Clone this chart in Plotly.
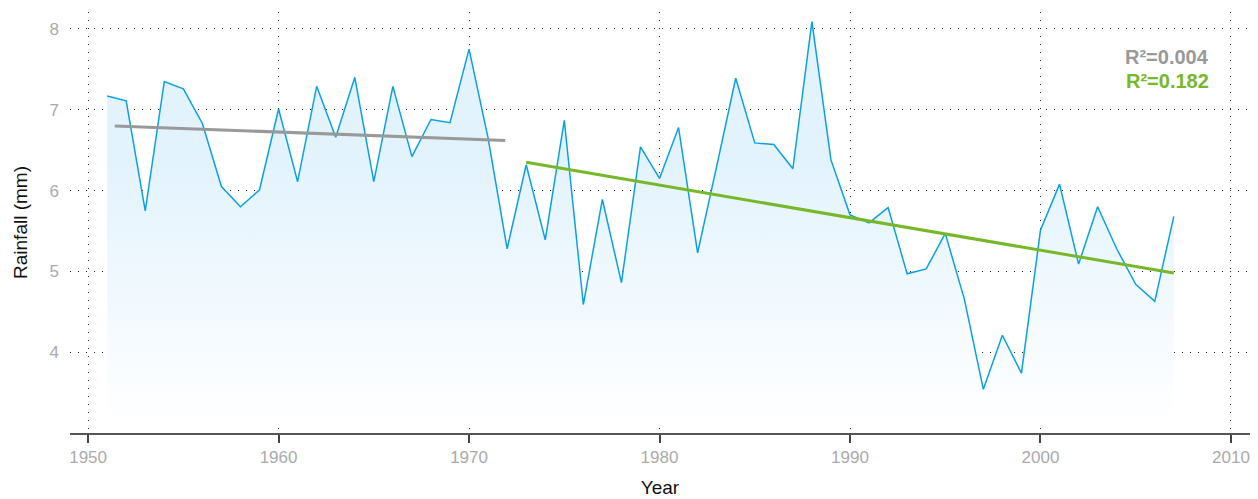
import plotly.graph_objects as go

years = list(range(1951, 2008))
rainfall = [7.17, 7.11, 5.75, 7.35, 7.26, 6.83, 6.05, 5.80, 6.01, 7.01,
            6.11, 7.29, 6.66, 7.40, 6.11, 7.29, 6.42, 6.88, 6.84, 7.75,
            6.65, 5.28, 6.32, 5.39, 6.87, 4.59, 5.89, 4.86, 6.54, 6.15,
            6.78, 5.23, 6.30, 7.39, 6.59, 6.57, 6.27, 8.09, 6.38, 5.70,
            5.60, 5.79, 4.97, 5.03, 5.47, 4.66, 3.54, 4.21, 3.74, 5.51,
            6.08, 5.09, 5.80, 5.28, 4.84, 4.63, 5.68]

trend1_x = [1951.4, 1971.9]
trend1_y = [6.80, 6.62]
trend2_x = [1973.0, 2007.0]
trend2_y = [6.35, 4.98]

r2_labels = ["R²=0.004", "R²=0.182"]
x_ticks = [1950, 1960, 1970, 1980, 1990, 2000, 2010]
y_ticks = [4, 5, 6, 7, 8]
fill_base = 3.1

FONT = "Liberation Sans, Arial, sans-serif"
BLUE = "#0aa0e6"
GRAY = "#999999"
GREEN = "#76b82a"

fig = go.Figure()

fig.add_trace(go.Scatter(
    x=[years[0], years[-1]], y=[fill_base, fill_base],
    mode="lines", line=dict(width=0, color="rgba(0,0,0,0)"),
    hoverinfo="skip", showlegend=False))

fig.add_trace(go.Scatter(
    x=years, y=rainfall, mode="lines",
    line=dict(color=BLUE, width=1.5),
    fill="tonexty",
    fillgradient=dict(type="vertical",
                      colorscale=[[0, "rgba(255,255,255,1)"],
                                  [1, "rgba(227,243,253,1)"]],
                      start=fill_base, stop=6.3),
    showlegend=False))

fig.add_trace(go.Scatter(x=trend1_x, y=trend1_y, mode="lines",
                         line=dict(color=GRAY, width=3), showlegend=False))
fig.add_trace(go.Scatter(x=trend2_x, y=trend2_y, mode="lines",
                         line=dict(color=GREEN, width=3), showlegend=False))

fig.add_annotation(xref="paper", yref="paper", x=(1211 - 70) / 1180, y=(433 - 57) / 421,
                   xanchor="right", yanchor="middle", showarrow=False,
                   text="<b>" + r2_labels[0] + "</b>",
                   font=dict(family=FONT, size=20, color=GRAY))
fig.add_annotation(xref="paper", yref="paper", x=(1211 - 70) / 1180, y=(433 - 81) / 421,
                   xanchor="right", yanchor="middle", showarrow=False,
                   text="<b>" + r2_labels[1] + "</b>",
                   font=dict(family=FONT, size=20, color=GREEN))

grid = dict(showgrid=True, gridcolor="#222222", griddash="1px,7px", gridwidth=1)

fig.update_layout(
    width=1258, height=499,
    margin=dict(l=70, r=8, t=12, b=66, autoexpand=False),
    plot_bgcolor="white", paper_bgcolor="white",
    font=dict(family=FONT),
    xaxis=dict(range=[1949.05, 2011.0], tickvals=x_ticks, automargin=False,
               ticks="outside", ticklen=8, tickcolor="#444", tickwidth=1.5,
               showline=True, linecolor="#555", linewidth=2,
               tickfont=dict(size=17, color="#aaaaaa"),
               title=dict(text="Year", font=dict(size=19, color="#111"), standoff=14),
               zeroline=False, **grid),
    yaxis=dict(range=[3.0, 8.21], tickvals=y_ticks, automargin=False,
               showline=False, ticks="", ticklabelstandoff=10,
               tickfont=dict(size=17, color="#aaaaaa"),
               title=dict(text="Rainfall (mm)", font=dict(size=19, color="#111"), standoff=16),
               zeroline=False, **grid),
)

fig.write_html("out.html", config={"displayModeBar": False},
               post_script="document.body.style.margin='0';document.body.style.overflow='hidden';")
